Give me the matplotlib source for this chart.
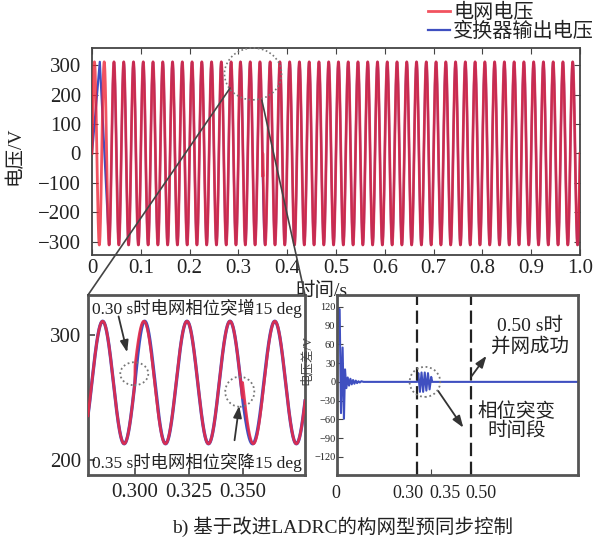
import numpy as np
import matplotlib
matplotlib.use("Agg")
import matplotlib.pyplot as plt
from matplotlib.patches import Ellipse, ConnectionPatch
from matplotlib.transforms import ScaledTranslation

plt.rcParams['font.family'] = ['Liberation Serif', 'Noto Sans CJK SC']
plt.rcParams['axes.unicode_minus'] = True

# grid voltage / converter output (main plot)
FREQ = 50.0                     # Hz
AMP = 311.0                     # V
PHASE_STEP_T = [0.30, 0.35]     # s
PHASE_STEP_DEG = [15.0, -15.0]  # deg
CONV_LAG_TAU = 0.005            # s, converter follows grid phase
CONV_START_T = [0.0, 0.016]     # converter start-up before sync
CONV_START_V = [0.0, 311.0]
CONV_SYNC_T = 0.035

# zoom panel (drawn schematically)
ZOOM_MID = 262.0
ZOOM_AMP = 49.0

# voltage difference panel
DIFF_T = [0, 0.004, 0.011, 0.016, 0.022, 0.027, 0.031, 0.036, 0.041, 0.046,
          0.051, 0.056, 0.061, 0.066, 0.071, 0.076, 0.081, 0.086, 0.092, 0.10,
          0.30, 0.304, 0.310, 0.316, 0.322, 0.328, 0.334, 0.340, 0.346, 0.352,
          0.356, 0.9]
DIFF_V = [-45, 118, 116, -50, 55, -59, 20, -10, 7, -6,
          5, -4, 3, -3, 2, -2, 1, -1, 1, 0,
          0, 14, -16, 15, -16, 15, -14, 14, -12, 8,
          0, 0]
DASH_T = [0.30, 0.50]

TOP_XTICKS = [0, 0.1, 0.2, 0.3, 0.4, 0.5, 0.6, 0.7, 0.8, 0.9, 1.0]
TOP_XLABELS = ['0', '0.1', '0.2', '0.3', '0.4', '0.5', '0.6', '0.7', '0.8', '0.9', '1.0']
TOP_YTICKS = [300, 200, 100, 0, -100, -200, -300]
ZOOM_XTICKS = [0.300, 0.325, 0.350]
ZOOM_YTICKS = [200, 300]
DIFF_XTICKS = [0, 0.30, 0.35, 0.50]
DIFF_XLABELS = ['0', '0.30', '0.35', '0.50']
DIFF_YTICKS = [120, 90, 60, 30, 0, -30, -60, -90, -120]

RED = '#ee2233'
BLUE = '#3f4fc0'
TXT = '#222222'
SPINE = '#444444'


def phase_deg(t, lag):
    ph = np.zeros_like(t)
    for ts, d in zip(PHASE_STEP_T, PHASE_STEP_DEG):
        on = t >= ts
        if lag:
            ph[on] += d * (1 - np.exp(-(t[on] - ts) / CONV_LAG_TAU))
        else:
            ph[on] += d
    return ph


t = np.linspace(0, 1, 40001)
wt = 2 * np.pi * FREQ * t
grid = AMP * np.sin(wt + np.radians(phase_deg(t, False)))
conv = AMP * np.sin(wt + np.radians(phase_deg(t, True)))
sync = t >= CONV_SYNC_T
conv_t = np.concatenate([CONV_START_T, t[sync]])
conv_v = np.concatenate([CONV_START_V, conv[sync]])

W, H = 603, 545
fig = plt.figure(figsize=(W / 100, H / 100), dpi=100)


def fx(px):
    return px / W


def fy(py):
    return 1 - py / H


# ---- top panel ----
ax = fig.add_axes([fx(92), fy(255), fx(580 - 92), (255 - 48) / H])
ax.plot(conv_t, conv_v, color=BLUE, lw=1.6, label='变换器输出电压', zorder=2)
ax.plot(t, grid, color=RED, lw=2.0, alpha=0.78, label='电网电压', zorder=3)
ax.set_xlim(0, 1)
ax.set_ylim(-345, 358)
ax.set_xticks(TOP_XTICKS)
ax.set_xticklabels(TOP_XLABELS)
ax.set_yticks(TOP_YTICKS)
ax.tick_params(direction='in', top=True, right=True, labelsize=15,
               colors=SPINE, labelcolor=TXT, length=4)
ax.tick_params(axis='x', pad=3)
ax.tick_params(axis='y', pad=8)
for s in ax.spines.values():
    s.set_color(SPINE)
    s.set_linewidth(1.3)
ax.set_ylabel('电压/V', fontsize=14, color=TXT)
ax.yaxis.set_label_coords(-0.14, 0.48)
ax.set_xlabel('时间/s', fontsize=14, color=TXT)
ax.xaxis.set_label_coords(0.47, -0.13)

h, l = ax.get_legend_handles_labels()
fig.legend(h[::-1], l[::-1], loc='upper right', bbox_to_anchor=(fx(594), fy(4)),
           frameon=False, fontsize=14.5, handlelength=1.1, handletextpad=0.15,
           labelspacing=-0.03, borderpad=0, borderaxespad=0, labelcolor=TXT)

ell_top = Ellipse((0.33, 270), 0.117, 176, fill=False, ls=(0, (1, 1.5)),
                  color='#777777', lw=1.2, zorder=5, clip_on=False)
ax.add_patch(ell_top)

# ---- zoom panel ----
axz = fig.add_axes([fx(88), fy(475), fx(217), 180 / H])
zt = t[(t >= 0.276) & (t <= 0.381)]
zw = 2 * np.pi * FREQ * zt
z_grid = ZOOM_MID + ZOOM_AMP * np.sin(zw + np.radians(phase_deg(zt, False)))
z_conv = ZOOM_MID + ZOOM_AMP * np.sin(zw + np.radians(phase_deg(zt, True)))
axz.plot(zt, z_conv, color=BLUE, lw=2.4, zorder=2)
axz.plot(zt, z_grid, color='#e62a48', lw=2.0, alpha=0.9, zorder=3)
axz.set_xlim(0.2782, 0.379)
axz.set_ylim(188, 332)
axz.set_xticks(ZOOM_XTICKS)
axz.set_xticklabels(['%.3f' % v for v in ZOOM_XTICKS])
axz.set_yticks(ZOOM_YTICKS)
axz.tick_params(direction='in', labelsize=15, colors=SPINE, labelcolor=TXT,
                length=5, width=1.2)
axz.tick_params(axis='x', pad=6)
axz.tick_params(axis='y', pad=5)
for s in axz.spines.values():
    s.set_color('#555555')
    s.set_linewidth(2.0)

axz.add_patch(Ellipse((0.2997, 269), 0.013, 18.4, fill=False, ls=(0, (1, 1.5)),
                      color='#777777', lw=1.3, zorder=5))
axz.add_patch(Ellipse((0.3487, 254.6), 0.0135, 24, fill=False, ls=(0, (1, 1.5)),
                      color='#777777', lw=1.3, zorder=5))
arrow = dict(arrowstyle='-|>,head_length=0.7,head_width=0.25', color='#333333', lw=1.3)
axz.annotate('', xy=(0.2967, 284), xytext=(0.2921, 317), arrowprops=arrow)
axz.annotate('', xy=(0.3486, 245.6), xytext=(0.3461, 213.6), arrowprops=arrow)
axz.text(0.02, 0.925, '0.30 s时电网相位突增15 deg', transform=axz.transAxes,
         fontsize=12.5, color=TXT, va='center', ha='left')
axz.text(0.02, 0.07, '0.35 s时电网相位突降15 deg', transform=axz.transAxes,
         fontsize=12.5, color=TXT, va='center', ha='left')

for xa, xb in [((0.283, 222), (0, 1)), ((0.348, 181), (1, 1))]:
    con = ConnectionPatch(xyA=xa, coordsA=ax.transData, xyB=xb,
                          coordsB=axz.transAxes, color='#444444', lw=1.2)
    fig.add_artist(con)

# ---- voltage difference panel ----
axd = fig.add_axes([fx(336.7), fy(475), fx(241.6), 180 / H])
axd.plot(DIFF_T, DIFF_V, color=BLUE, lw=1.5)
for xd in DASH_T:
    axd.axvline(xd, color='#222222', lw=1.6, ls=(0, (6, 2.5)))
axd.set_xlim(0, 0.9)
axd.set_ylim(-149, 139)
axd.set_yticks(DIFF_YTICKS)
axd.set_xticks(DIFF_XTICKS)
axd.set_xticklabels(DIFF_XLABELS)
axd.tick_params(direction='in', colors=SPINE, labelcolor=TXT, length=4)
axd.tick_params(axis='y', labelsize=7.5, pad=1)
axd.tick_params(axis='x', labelsize=13, pad=7)
# labels sit beside the crowded ticks, as in the original figure
shifts = [-0.01, -0.09, 0.14, 0.10]
for lab, sh in zip(axd.get_xticklabels(), shifts):
    lab.set_transform(lab.get_transform() + ScaledTranslation(sh, 0, fig.dpi_scale_trans))
for s in axd.spines.values():
    s.set_color('#555555')
    s.set_linewidth(2.0)
axd.set_ylabel('电压差/V', fontsize=9, color='#444444')
axd.yaxis.set_label_coords(-0.10, 0.64)

axd.add_patch(Ellipse((0.3286, 0), 0.114, 48, fill=False, ls=(0, (1, 1.5)),
                      color='#777777', lw=1.3, zorder=5))
axd.annotate('', xy=(0.4775, -77), xytext=(0.372, -10.7), arrowprops=arrow)
axd.annotate('', xy=(0.564, 45.3), xytext=(0.496, 5.3), arrowprops=arrow)
axd.text(0.719, 72, '0.50 s时\n并网成功', fontsize=14, color=TXT,
         ha='center', va='center', linespacing=1.15)
axd.text(0.67, -63, '相位突变\n时间段', fontsize=14, color=TXT,
         ha='center', va='center', linespacing=1.1)

fig.text(fx(343), fy(527), 'b) 基于改进LADRC的构网型预同步控制', fontsize=14,
         color=TXT, ha='center', va='center')

fig.savefig('out.png', dpi=100, facecolor='white')
